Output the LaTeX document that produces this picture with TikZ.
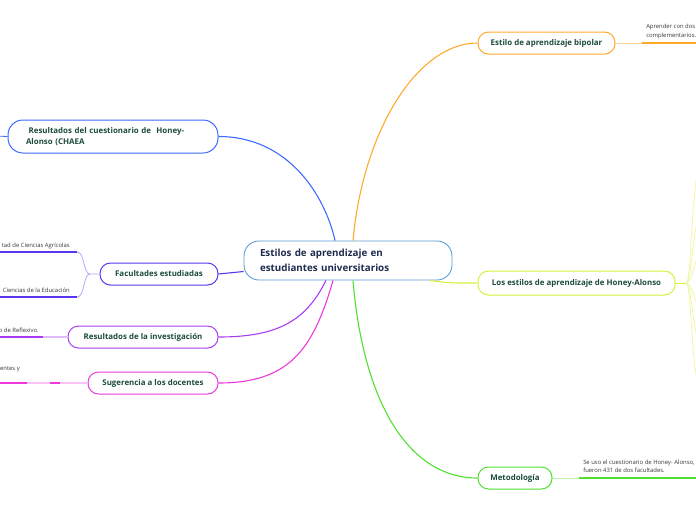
\documentclass[tikz,border=0pt]{standalone}
\usepackage{fontspec}
\setmainfont{Open Sans}
\usetikzlibrary{positioning}
\definecolor{mapblue}{HTML}{3D6BFF}
\definecolor{maporange}{HTML}{FFAA2E}
\definecolor{maplime}{HTML}{D8F03C}
\definecolor{maplimepale}{HTML}{EEF6A6}
\definecolor{mapgreen}{HTML}{52E030}
\definecolor{mapindigo}{HTML}{5A35EE}
\definecolor{mappurple}{HTML}{A83CF5}
\definecolor{mappink}{HTML}{EE38DC}
\definecolor{rootline}{HTML}{5B9BD5}
\definecolor{topictext}{HTML}{1B4B3C}
\definecolor{roottext}{HTML}{1F2B4E}
\tikzset{every picture/.style={line width=0.5pt}}
\tikzset{
  topic/.style={draw, line width=1pt, fill=white, rounded corners=10.5pt,
    minimum height=22pt, inner xsep=2pt, inner ysep=0pt,
    text=topictext, font=\fontsize{7.9}{9.5}\selectfont\bfseries},
  branch/.style={line width=1.1pt},
  leaf/.style={line width=1.8pt},
  stem/.style={line width=0.8pt},
  note/.style={inner sep=0pt, text=black!78, align=left,
    font=\fontsize{5.9}{8.4}\selectfont}
}

\begin{document}
\begin{tikzpicture}[x=1pt,y=-1pt]
\useasboundingbox (0,0) rectangle (696,520);
% central topic
\node[draw=rootline, line width=0.9pt, fill=white, rounded corners=15pt,
  minimum width=208pt, minimum height=39pt, text width=176pt, inner xsep=16pt,
  align=left, text=roottext, font=\fontsize{9.8}{15}\selectfont\bfseries]
  (root) at (348,260.5) {Estilos de aprendizaje en\\estudiantes universitarios};
% main topics
\node[topic, draw=mapblue, minimum width=210pt, minimum height=33pt,
  rounded corners=15pt, text width=174pt, inner xsep=18pt, align=left,
  font=\fontsize{7.9}{11}\selectfont\bfseries]
  (cuest) at (113,136.5) {\ Resultados del cuestionario de\ \ Honey-\\Alonso (CHAEA};
\node[topic, draw=mapindigo, minimum width=118pt] (facu) at (159,274) {Facultades estudiadas};
\node[topic, draw=mappurple, minimum width=150pt] (resinv) at (143,337) {Resultados de la investigación};
\node[topic, draw=mappink, minimum width=130pt] (suger) at (153,383) {Sugerencia a los docentes};
\node[topic, draw=maporange, minimum width=137pt] (bipolar) at (546.5,43) {Estilo de aprendizaje bipolar};
\node[topic, draw=maplime, minimum width=197pt, minimum height=24pt] (honey) at (576.5,283) {Los estilos de aprendizaje de Honey-Alonso};
\node[topic, draw=mapgreen, minimum width=74pt] (metod) at (515,478) {Metodología};
% branches from the centre
\draw[branch, mapblue] ([xshift=-13pt]root.north) .. controls +(-10,-45) and +(70,0) .. (cuest.east);
\draw[branch, maporange] ([xshift=5pt]root.north) .. controls +(10,-110) and +(-60,0) .. (bipolar.west);
\draw[branch, maplime] ([xshift=82pt]root.south) .. controls +(20,3) and +(-20,0) .. (honey.west);
\draw[branch, mapgreen] ([xshift=5pt]root.south) .. controls +(10,120) and +(-70,0) .. (metod.west);
\draw[branch, mapindigo] ([yshift=-11pt]root.west) -- (facu.east);
\draw[branch, mappurple] ([xshift=-22pt]root.south) .. controls +(-20,40) and +(60,0) .. (resinv.east);
\draw[branch, mappink] ([xshift=-15pt]root.south) .. controls +(-20,70) and +(70,0) .. (suger.east);
% left side leaves
\coordinate (cuestend) at (-5,136);
\draw[stem, mapblue] (cuest.west) -- (cuestend);
\coordinate (agrijoin) at (77,252);
\coordinate (agriend) at (-5,252);
\coordinate (educjoin) at (77,297);
\coordinate (educend) at (-5,297);
\coordinate (facufork) at (90,274);
\draw[stem, mapindigo!45] (facu.west) -- (facufork) .. controls (83,274) and (85,252) .. (agrijoin);
\draw[stem, mapindigo!45] (facufork) .. controls (83,274) and (85,297) .. (educjoin);
\draw[leaf, mapindigo] (agrijoin) -- (agriend);
\draw[leaf, mapindigo] (educjoin) -- (educend);
\node[note, anchor=base east] (agritext) at (70,247) {tad de Ciencias Agrícolas};
\node[note, anchor=base east] (eductext) at (70,292) {Ciencias de la Educación};
\coordinate (invjoin) at (43,337);
\coordinate (invend) at (-5,337);
\draw[leaf, mappurple!35] (resinv.west) -- (invjoin);
\draw[leaf, mappurple] (invjoin) -- (invend);
\node[note, anchor=base east] (invtext) at (39,332) {o de Reflexivo.};
\coordinate (sugone) at (60,383);
\coordinate (sugtwo) at (50,383);
\coordinate (sugthree) at (27,383);
\coordinate (sugend) at (-5,383);
\draw[leaf, mappink!30] (suger.west) -- (sugone);
\draw[leaf, mappink] (sugone) -- (sugtwo);
\draw[leaf, mappink!30] (sugtwo) -- (sugthree);
\draw[leaf, mappink] (sugthree) -- (sugend);
\node[note, anchor=base east] (sugtext) at (20,370) {entes y};
% right side leaves
\coordinate (bipjoin) at (642,43);
\coordinate (bipend) at (705,43);
\draw[stem, maporange!55] (bipolar.east) -- (bipjoin);
\draw[leaf, maporange] (bipjoin) -- (bipend);
\node[note, anchor=south west] (biptext) at (646,39) {Aprender con dos\\complementarios.};
\coordinate (metjoin) at (579,478);
\coordinate (metend) at (705,478);
\draw[stem, mapgreen!40] (metod.east) -- (metjoin);
\draw[leaf, mapgreen] (metjoin) -- (metend);
\node[note, anchor=south west] (mettext) at (583,473) {Se uso el cuestionario de Honey- Alonso,\\fueron 431 de dos facultades.};
\coordinate (hfork) at (686,283);
\coordinate (hupone) at (702,150);
\coordinate (huptwo) at (704,195);
\coordinate (hupthree) at (706,240);
\coordinate (hdownone) at (702,400);
\coordinate (hdowntwo) at (704,360);
\coordinate (hdownthree) at (706,320);
\draw[stem, maplime] (honey.east) -- (hfork);
\draw[stem, maplimepale] (hfork) .. controls (692,283) and (690,190) .. (hupone);
\draw[stem, maplimepale] (hfork) .. controls (692,283) and (692,225) .. (huptwo);
\draw[stem, maplimepale] (hfork) .. controls (693,283) and (694,255) .. (hupthree);
\draw[stem, maplimepale] (hfork) .. controls (692,283) and (690,370) .. (hdownone);
\draw[stem, maplimepale] (hfork) .. controls (692,283) and (692,335) .. (hdowntwo);
\draw[stem, maplimepale] (hfork) .. controls (693,283) and (694,305) .. (hdownthree);
\end{tikzpicture}
\end{document}
